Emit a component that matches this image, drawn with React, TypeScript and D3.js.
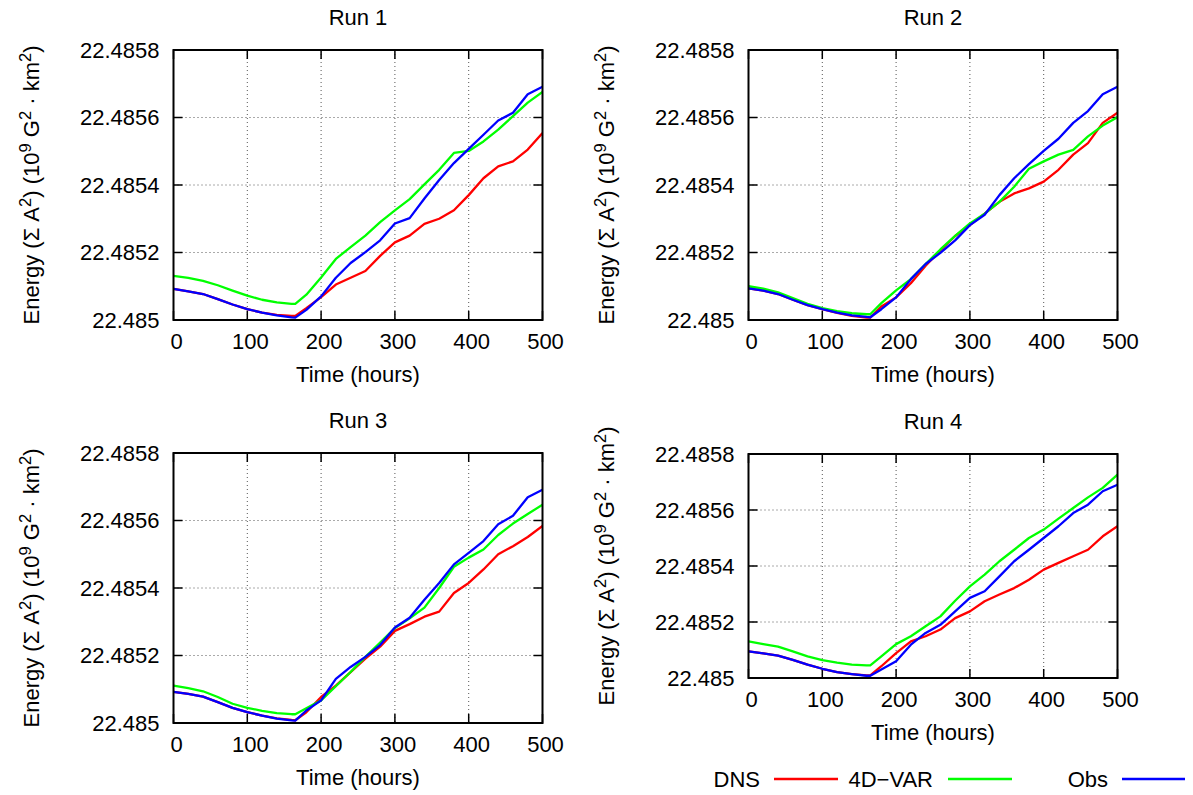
import React from "react";
import * as d3 from "d3";

// Time axis (hours)
const TIMES = [0, 20, 40, 60, 80, 100, 120, 140, 160, 165, 180, 200, 220, 240, 260, 280, 300, 320, 340, 360, 380, 400, 420, 440, 460, 480, 500];

// Energy offsets from BASE, in units of 1e-4
const BASE = 22.485;
const UNIT = 1e-4;

const RUN1_DNS = [0.92, 0.85, 0.77, 0.62, 0.46, 0.32, 0.22, 0.15, 0.12, 0.12, 0.35, 0.68, 1.05, 1.25, 1.45, 1.90, 2.30, 2.50, 2.85, 3.00, 3.25, 3.70, 4.20, 4.55, 4.70, 5.05, 5.54];
const RUN1_VAR = [1.31, 1.25, 1.16, 1.03, 0.87, 0.72, 0.60, 0.52, 0.48, 0.48, 0.75, 1.26, 1.81, 2.16, 2.50, 2.90, 3.25, 3.58, 4.02, 4.45, 4.95, 5.01, 5.29, 5.64, 6.04, 6.44, 6.76];
const RUN1_OBS = [0.92, 0.85, 0.77, 0.62, 0.46, 0.32, 0.22, 0.14, 0.08, 0.07, 0.30, 0.70, 1.25, 1.69, 2.01, 2.36, 2.86, 3.02, 3.60, 4.15, 4.65, 5.07, 5.49, 5.91, 6.14, 6.69, 6.91];

const RUN2_DNS = [0.94, 0.87, 0.77, 0.60, 0.44, 0.32, 0.21, 0.12, 0.07, 0.07, 0.40, 0.67, 1.09, 1.61, 2.06, 2.49, 2.81, 3.15, 3.50, 3.75, 3.90, 4.10, 4.45, 4.90, 5.24, 5.84, 6.14];
const RUN2_VAR = [1.00, 0.93, 0.82, 0.65, 0.48, 0.35, 0.26, 0.20, 0.17, 0.17, 0.50, 0.88, 1.21, 1.66, 2.09, 2.49, 2.86, 3.15, 3.50, 3.95, 4.48, 4.70, 4.90, 5.04, 5.44, 5.76, 6.01];
const RUN2_OBS = [0.94, 0.87, 0.77, 0.60, 0.44, 0.32, 0.22, 0.14, 0.09, 0.08, 0.32, 0.67, 1.21, 1.66, 1.99, 2.36, 2.81, 3.12, 3.70, 4.20, 4.62, 5.01, 5.37, 5.84, 6.19, 6.69, 6.91];

const RUN3_DNS = [0.92, 0.86, 0.78, 0.62, 0.45, 0.32, 0.22, 0.14, 0.09, 0.08, 0.32, 0.77, 1.11, 1.51, 1.91, 2.26, 2.73, 2.93, 3.15, 3.30, 3.85, 4.15, 4.55, 5.00, 5.24, 5.51, 5.84];
const RUN3_VAR = [1.11, 1.03, 0.94, 0.77, 0.57, 0.45, 0.36, 0.29, 0.26, 0.26, 0.44, 0.67, 1.09, 1.51, 1.96, 2.38, 2.81, 3.10, 3.42, 4.00, 4.63, 4.90, 5.14, 5.57, 5.91, 6.19, 6.47];
const RUN3_OBS = [0.92, 0.86, 0.78, 0.62, 0.45, 0.32, 0.22, 0.13, 0.08, 0.07, 0.37, 0.67, 1.31, 1.66, 1.96, 2.31, 2.83, 3.12, 3.65, 4.15, 4.70, 5.04, 5.39, 5.89, 6.14, 6.69, 6.91];

const RUN4_DNS = [0.95, 0.88, 0.80, 0.65, 0.48, 0.33, 0.21, 0.14, 0.09, 0.09, 0.42, 0.89, 1.31, 1.49, 1.73, 2.14, 2.38, 2.74, 2.98, 3.21, 3.51, 3.87, 4.11, 4.35, 4.58, 5.06, 5.42];
const RUN4_VAR = [1.31, 1.21, 1.12, 0.95, 0.77, 0.64, 0.55, 0.48, 0.45, 0.45, 0.77, 1.21, 1.49, 1.85, 2.20, 2.76, 3.27, 3.69, 4.17, 4.58, 5.00, 5.30, 5.69, 6.07, 6.45, 6.79, 7.26];
const RUN4_OBS = [0.95, 0.88, 0.80, 0.65, 0.48, 0.33, 0.21, 0.14, 0.08, 0.08, 0.30, 0.60, 1.19, 1.61, 1.90, 2.38, 2.86, 3.10, 3.63, 4.17, 4.58, 5.00, 5.42, 5.89, 6.19, 6.67, 6.90];

const X_TICKS = [0, 100, 200, 300, 400, 500];
const Y_TICKS = [22.485, 22.4852, 22.4854, 22.4856, 22.4858];
const Y_TICK_LABELS = ["22.485", "22.4852", "22.4854", "22.4856", "22.4858"];

const SERIES_NAMES = ["DNS", "4D\u2212VAR", "Obs"];
const SERIES_COLORS = ["#ff0000", "#00ff00", "#0000ff"];

const RUN_TITLES = ["Run 1", "Run 2", "Run 3", "Run 4"];
const RUN_DATA = [
  [RUN1_DNS, RUN1_VAR, RUN1_OBS],
  [RUN2_DNS, RUN2_VAR, RUN2_OBS],
  [RUN3_DNS, RUN3_VAR, RUN3_OBS],
  [RUN4_DNS, RUN4_VAR, RUN4_OBS],
];

const PANELS = [
  { left: 173.5, right: 542.5, top: 50, bottom: 320 },
  { left: 748.5, right: 1117.5, top: 50, bottom: 320 },
  { left: 173.5, right: 542.5, top: 453, bottom: 723 },
  { left: 748.5, right: 1117.5, top: 454, bottom: 678 },
];

const FONT = "'Liberation Sans', Arial, Helvetica, sans-serif";
const FS = 22;

function Panel({ idx }: { idx: number }) {
  const p = PANELS[idx];
  const x = d3.scaleLinear().domain([0, 500]).range([p.left, p.right]);
  const y = d3.scaleLinear().domain([22.485, 22.4858]).range([p.bottom, p.top]);
  const line = d3
    .line<number>()
    .x((_, i) => x(TIMES[i]))
    .y((v) => y(BASE + v * UNIT));
  const cx = (p.left + p.right) / 2;
  const cy = (p.top + p.bottom) / 2;
  const tickLen = 9;
  const clipId = `clip${idx}`;
  return (
    <g>
      <defs>
        <clipPath id={clipId}>
          <rect x={p.left} y={p.top} width={p.right - p.left} height={p.bottom - p.top} />
        </clipPath>
      </defs>
      {/* grid */}
      {X_TICKS.slice(1, -1).map((t) => (
        <line key={"gx" + t} x1={x(t)} x2={x(t)} y1={p.top} y2={p.bottom} stroke="#555" strokeWidth={1} strokeDasharray="1,3" />
      ))}
      {Y_TICKS.slice(1, -1).map((t) => (
        <line key={"gy" + t} x1={p.left} x2={p.right} y1={y(t)} y2={y(t)} stroke="#555" strokeWidth={1} strokeDasharray="1,3" />
      ))}
      {/* ticks */}
      {X_TICKS.map((t) => (
        <g key={"tx" + t}>
          <line x1={x(t)} x2={x(t)} y1={p.bottom} y2={p.bottom - tickLen} stroke="#000" strokeWidth={1.5} />
          <line x1={x(t)} x2={x(t)} y1={p.top} y2={p.top + tickLen} stroke="#000" strokeWidth={1.5} />
          <text x={x(t) + 3} y={p.bottom + 29} textAnchor="middle" fontFamily={FONT} fontSize={FS} fill="#000">
            {t}
          </text>
        </g>
      ))}
      {Y_TICKS.map((t, i) => (
        <g key={"ty" + t}>
          <line x1={p.left} x2={p.left + tickLen} y1={y(t)} y2={y(t)} stroke="#000" strokeWidth={1.5} />
          <line x1={p.right} x2={p.right - tickLen} y1={y(t)} y2={y(t)} stroke="#000" strokeWidth={1.5} />
          <text x={p.left - 14} y={y(t)} dy="0.36em" textAnchor="end" fontFamily={FONT} fontSize={FS} fill="#000">
            {Y_TICK_LABELS[i]}
          </text>
        </g>
      ))}
      {/* series */}
      <g clipPath={`url(#${clipId})`}>
        {RUN_DATA[idx].map((vals, si) => (
          <path key={si} d={line(vals) || ""} fill="none" stroke={SERIES_COLORS[si]} strokeWidth={2.3} strokeLinejoin="round" />
        ))}
      </g>
      {/* border */}
      <rect x={p.left} y={p.top} width={p.right - p.left} height={p.bottom - p.top} fill="none" stroke="#000" strokeWidth={2} />
      {/* titles */}
      <text x={cx} y={p.top - 25} textAnchor="middle" fontFamily={FONT} fontSize={FS} fill="#000">
        {RUN_TITLES[idx]}
      </text>
      <text x={cx} y={p.bottom + 62} textAnchor="middle" fontFamily={FONT} fontSize={FS} fill="#000">
        Time (hours)
      </text>
      <text
        transform={`translate(${p.left - 135},${cy}) rotate(-90)`}
        textAnchor="middle"
        fontFamily={FONT}
        fontSize={FS}
        fill="#000"
      >
        <tspan>Energy (Σ A</tspan>
        <tspan fontSize={16.5} dy={-8}>2</tspan>
        <tspan dy={8}>) (10</tspan>
        <tspan fontSize={16.5} dy={-8}>9</tspan>
        <tspan dy={8}> G</tspan>
        <tspan fontSize={16.5} dy={-8}>2</tspan>
        <tspan dy={8}> · km</tspan>
        <tspan fontSize={16.5} dy={-8}>2</tspan>
        <tspan dy={8}>)</tspan>
      </text>
    </g>
  );
}

const LEGEND = [
  { textRight: 760, x1: 774, x2: 838 },
  { textRight: 933, x1: 948, x2: 1012 },
  { textRight: 1108, x1: 1122, x2: 1185 },
];

export default function App() {
  return (
    <svg
      width={1193}
      height={795}
      style={{ position: "absolute", left: 0, top: 0, background: "#fff" }}
    >
      <rect x={0} y={0} width={1193} height={795} fill="#fff" />
      {PANELS.map((_, i) => (
        <Panel key={i} idx={i} />
      ))}
      {SERIES_NAMES.map((name, i) => (
        <g key={name}>
          <text x={LEGEND[i].textRight} y={786.5} textAnchor="end" fontFamily={FONT} fontSize={FS} fill="#000">
            {name}
          </text>
          <line x1={LEGEND[i].x1} x2={LEGEND[i].x2} y1={779} y2={779} stroke={SERIES_COLORS[i]} strokeWidth={2.3} />
        </g>
      ))}
    </svg>
  );
}
